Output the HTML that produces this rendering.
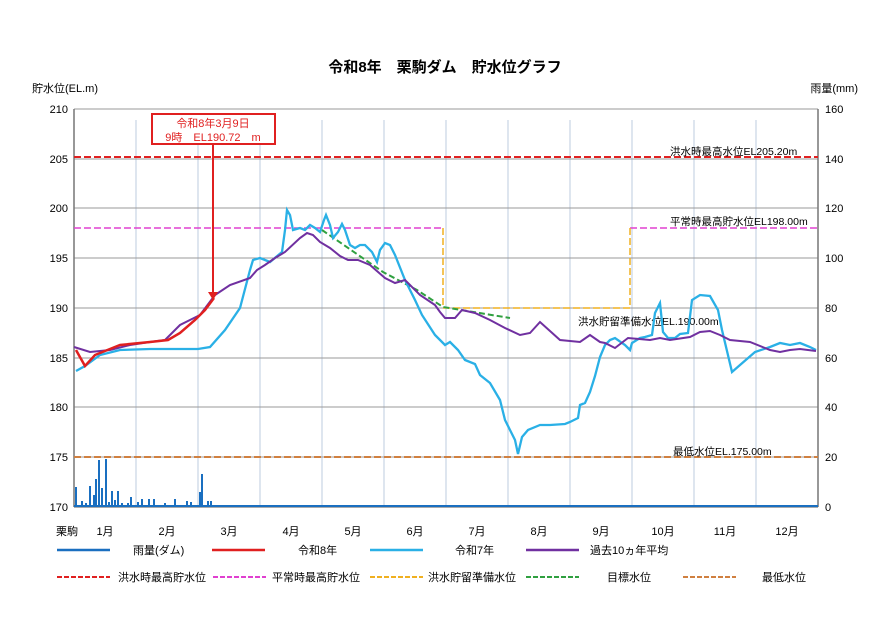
<!DOCTYPE html>
<html><head><meta charset="utf-8"><style>
body{margin:0;background:#fff;}
svg text{font-family:"Liberation Sans","Noto Sans CJK JP",sans-serif;}
</style></head><body>
<svg width="890" height="630" xmlns="http://www.w3.org/2000/svg">
<rect width="890" height="630" fill="#fff"/>
<text x="445" y="72" font-size="15" font-weight="bold" text-anchor="middle">令和8年　栗駒ダム　貯水位グラフ</text>
<text x="32" y="92" font-size="11">貯水位(EL.m)</text>
<text x="858" y="92" font-size="11" text-anchor="end">雨量(mm)</text>
<g stroke="#c8d4e4" stroke-width="1.2">
<line x1="136" y1="120" x2="136" y2="507"/><line x1="198" y1="120" x2="198" y2="507"/><line x1="260" y1="120" x2="260" y2="507"/><line x1="322" y1="120" x2="322" y2="507"/><line x1="384" y1="120" x2="384" y2="507"/><line x1="446" y1="120" x2="446" y2="507"/><line x1="508" y1="120" x2="508" y2="507"/><line x1="570" y1="120" x2="570" y2="507"/><line x1="632" y1="120" x2="632" y2="507"/><line x1="694" y1="120" x2="694" y2="507"/><line x1="756" y1="120" x2="756" y2="507"/>
</g>
<g stroke="#999" stroke-width="1">
<line x1="74" y1="109" x2="818" y2="109"/><line x1="74" y1="159" x2="818" y2="159"/><line x1="74" y1="208" x2="818" y2="208"/><line x1="74" y1="258" x2="818" y2="258"/><line x1="74" y1="308" x2="818" y2="308"/><line x1="74" y1="358" x2="818" y2="358"/><line x1="74" y1="407" x2="818" y2="407"/><line x1="74" y1="457" x2="818" y2="457"/>
</g>
<line x1="74" y1="507" x2="818" y2="507" stroke="#555"/>
<line x1="74" y1="109" x2="74" y2="507" stroke="#777" stroke-width="1.5"/>
<line x1="818" y1="109" x2="818" y2="507" stroke="#777" stroke-width="1.5"/>
<g font-size="11" text-anchor="end">
<text x="68" y="113">210</text><text x="68" y="163">205</text><text x="68" y="212">200</text><text x="68" y="262">195</text><text x="68" y="312">190</text><text x="68" y="362">185</text><text x="68" y="411">180</text><text x="68" y="461">175</text><text x="68" y="511">170</text>
</g>
<g font-size="11">
<text x="825" y="113">160</text><text x="825" y="163">140</text><text x="825" y="212">120</text><text x="825" y="262">100</text><text x="825" y="312">80</text><text x="825" y="362">60</text><text x="825" y="411">40</text><text x="825" y="461">20</text><text x="825" y="511">0</text>
</g>
<g font-size="11" text-anchor="middle">
<text x="67" y="535">栗駒</text>
<text x="105" y="535">1月</text><text x="167" y="535">2月</text><text x="229" y="535">3月</text><text x="291" y="535">4月</text><text x="353" y="535">5月</text><text x="415" y="535">6月</text><text x="477" y="535">7月</text><text x="539" y="535">8月</text><text x="601" y="535">9月</text><text x="663" y="535">10月</text><text x="725" y="535">11月</text><text x="787" y="535">12月</text>
</g>
<line x1="74" y1="157" x2="818" y2="157" stroke="#e02020" stroke-width="2" stroke-dasharray="7,3"/>
<line x1="74" y1="228" x2="443" y2="228" stroke="#e040d0" stroke-width="1.5" stroke-dasharray="7,3"/>
<line x1="630" y1="228" x2="818" y2="228" stroke="#e040d0" stroke-width="1.5" stroke-dasharray="7,3"/>
<polyline points="443,228 443,308 630,308 630,228" fill="none" stroke="#f0b020" stroke-width="1.5" stroke-dasharray="7,3"/>
<line x1="74" y1="457" x2="818" y2="457" stroke="#d08040" stroke-width="2" stroke-dasharray="7,3"/>
<g font-size="10.5">
<text x="670" y="155">洪水時最高水位EL205.20m</text>
<text x="670" y="225">平常時最高貯水位EL198.00m</text>
<text x="578" y="325">洪水貯留準備水位EL.190.00m</text>
<text x="673" y="455">最低水位EL.175.00m</text>
</g>
<g stroke="#1a6fc0" stroke-width="2">
<line x1="76" y1="507" x2="76" y2="487"/><line x1="82" y1="507" x2="82" y2="501"/><line x1="86" y1="507" x2="86" y2="503"/><line x1="90" y1="507" x2="90" y2="486"/><line x1="94" y1="507" x2="94" y2="495"/><line x1="96" y1="507" x2="96" y2="479"/><line x1="99" y1="507" x2="99" y2="460"/><line x1="102" y1="507" x2="102" y2="488"/><line x1="106" y1="507" x2="106" y2="459"/><line x1="109" y1="507" x2="109" y2="502"/><line x1="112" y1="507" x2="112" y2="491"/><line x1="115" y1="507" x2="115" y2="500"/><line x1="118" y1="507" x2="118" y2="491"/><line x1="122" y1="507" x2="122" y2="503"/><line x1="128" y1="507" x2="128" y2="503"/><line x1="131" y1="507" x2="131" y2="497"/><line x1="138" y1="507" x2="138" y2="502"/><line x1="142" y1="507" x2="142" y2="499"/><line x1="149" y1="507" x2="149" y2="499"/><line x1="154" y1="507" x2="154" y2="499"/><line x1="165" y1="507" x2="165" y2="503"/><line x1="175" y1="507" x2="175" y2="499"/><line x1="187" y1="507" x2="187" y2="501"/><line x1="191" y1="507" x2="191" y2="502"/><line x1="200" y1="507" x2="200" y2="492"/><line x1="202" y1="507" x2="202" y2="474"/><line x1="208" y1="507" x2="208" y2="501"/><line x1="211" y1="507" x2="211" y2="501"/>
</g>
<line x1="74" y1="506" x2="818" y2="506" stroke="#1a6fc0" stroke-width="2"/>
<polyline points="322,230 383,272 417,290 443,307 510,318" fill="none" stroke="#30a040" stroke-width="2" stroke-dasharray="6,3"/>
<polyline fill="none" stroke="#2ab0e6" stroke-width="2.3" points="76,371 85,366 100,355 120,350 150,349 198,349 210,347 225,330 240,308 250,270 253,260 260,258 270,262 282,252 285,230 287,210 290,215 293,230 300,228 305,230 310,225 315,228 320,232 324,220 326,215 330,225 333,238 338,232 342,224 345,230 350,245 355,248 360,245 365,245 372,252 377,262 380,250 385,243 390,245 395,255 405,280 415,300 422,315 435,335 445,345 450,342 458,350 465,360 475,364 480,375 490,383 500,400 505,420 510,430 515,440 518,454 522,437 528,430 540,425 550,425 565,424 570,422 578,418 580,405 585,403 590,392 595,376 600,357 605,345 610,340 615,338 625,345 630,350 632,343 640,338 645,337 652,335 655,313 660,303 663,332 668,338 675,338 680,334 688,333 692,300 700,295 710,296 718,310 722,330 732,372 740,365 755,352 770,347 780,343 790,345 800,343 810,347 816,350"/>
<polyline fill="none" stroke="#7030a0" stroke-width="2" points="74,347 90,352 110,350 130,345 150,342 165,340 180,325 200,315 215,295 230,285 250,278 257,270 265,265 275,258 285,252 300,238 307,233 313,235 320,242 330,248 340,256 348,260 358,260 370,265 385,278 395,283 405,280 420,295 435,305 440,312 445,318 455,318 462,310 475,313 490,320 505,328 520,335 530,333 540,322 560,340 580,342 590,335 600,342 605,343 615,348 628,338 650,340 660,338 670,340 690,337 700,332 710,331 720,335 730,340 750,342 770,350 780,352 790,350 800,349 816,351"/>
<polyline fill="none" stroke="#e02020" stroke-width="2.5" points="76,350 85,366 95,355 120,345 150,342 168,340 180,333 195,320 205,310 214,298"/>
<line x1="213" y1="144" x2="213" y2="296" stroke="#e02020" stroke-width="2"/>
<polygon points="208,292 218,292 213,300" fill="#e02020"/>
<rect x="152" y="114" width="123" height="30" fill="#fff" stroke="#e02020" stroke-width="2"/>
<text x="213" y="127" font-size="11" fill="#e02020" text-anchor="middle">令和8年3月9日</text>
<text x="213" y="141" font-size="11" fill="#e02020" text-anchor="middle">9時　EL190.72　m</text>
<g font-size="11">
<line x1="57" y1="550" x2="110" y2="550" stroke="#1a6fc0" stroke-width="2.5"/><text x="133" y="554">雨量(ダム)</text>
<line x1="212" y1="550" x2="265" y2="550" stroke="#e02020" stroke-width="2.5"/><text x="298" y="554">令和8年</text>
<line x1="370" y1="550" x2="423" y2="550" stroke="#2ab0e6" stroke-width="2.5"/><text x="455" y="554">令和7年</text>
<line x1="526" y1="550" x2="579" y2="550" stroke="#7030a0" stroke-width="2.5"/><text x="590" y="554">過去10ヵ年平均</text>
<line x1="57" y1="577" x2="110" y2="577" stroke="#e02020" stroke-width="2" stroke-dasharray="5,2"/><text x="118" y="581">洪水時最高貯水位</text>
<line x1="213" y1="577" x2="266" y2="577" stroke="#e040d0" stroke-width="2" stroke-dasharray="5,2"/><text x="272" y="581">平常時最高貯水位</text>
<line x1="370" y1="577" x2="423" y2="577" stroke="#f0b020" stroke-width="2" stroke-dasharray="5,2"/><text x="428" y="581">洪水貯留準備水位</text>
<line x1="526" y1="577" x2="579" y2="577" stroke="#30a040" stroke-width="2" stroke-dasharray="5,2"/><text x="607" y="581">目標水位</text>
<line x1="683" y1="577" x2="736" y2="577" stroke="#d08040" stroke-width="2" stroke-dasharray="5,2"/><text x="762" y="581">最低水位</text>
</g>
</svg>
</body></html>
